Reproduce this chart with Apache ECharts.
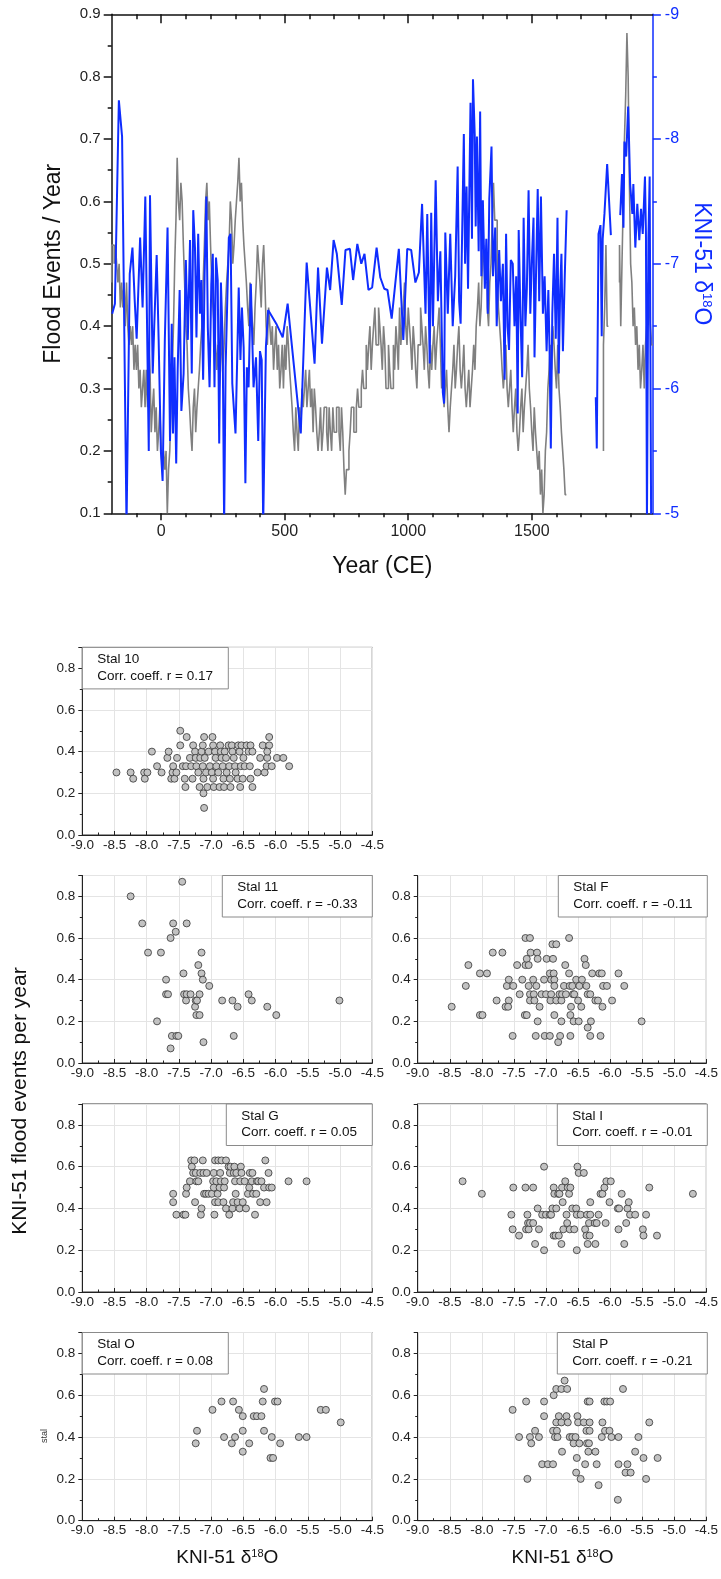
<!DOCTYPE html>
<html><head><meta charset="utf-8">
<script src="https://cdn.jsdelivr.net/npm/echarts@6.0.0/dist/echarts.min.js"></script>
<style>html,body{margin:0;padding:0;background:#fff}#c{width:721px;height:1579px}</style>
</head><body><div id="c"></div><script>
const FONT = 'Arial, "Liberation Sans", sans-serif';
const BLUE = '#0f2dff';
const GRAY = '#808080';

// ---------- top chart data ----------
const yearMajor = [0, 500, 1000, 1500];
const yearMinor = [-100,100,200,300,400,600,700,800,900,1100,1200,1300,1400,1600,1700,1800,1900];
// flood events per year (gray, left axis) [year, value]; null = gap
const flood = [[-200,0.47],[-195,0.53],[-190,0.53],[-185,0.5],[-180,0.53],[-175,0.5],[-170,0.47],[-165,0.5],[-160,0.43],[-155,0.47],[-150,0.43],[-145,0.47],[-140,0.4],[-135,0.47],[-130,0.4],[-125,0.37],[-120,0.4],[-115,0.37],[-110,0.4],[-105,0.33],[-100,0.37],[-95,0.33],[-90,0.37],[-85,0.3],[-80,0.33],[-75,0.27],[-70,0.3],[-65,0.33],[-60,0.27],[-55,0.33],[-50,0.27],[-45,0.37],[-40,0.33],[-35,0.23],[-30,0.27],[-25,0.3],[-20,0.23],[-15,0.27],[-10,0.2],[-5,0.23],[0,0.27],[5,0.2],[10,0.17],[15,0.2],[20,0.17],[25,0.2],[30,0.1],[35,0.17],[40,0.2],[45,0.27],[50,0.33],[55,0.4],[60,0.5],[65,0.57],[70,0.67],[75,0.6],[80,0.57],[85,0.63],[90,0.6],[95,0.53],[100,0.47],[105,0.4],[110,0.37],[115,0.3],[120,0.27],[125,0.23],[130,0.2],[135,0.27],[140,0.3],[145,0.23],[150,0.27],[155,0.3],[160,0.33],[165,0.37],[170,0.4],[175,0.47],[180,0.53],[185,0.6],[190,0.63],[195,0.57],[200,0.6],[205,0.53],[210,0.47],[215,0.43],[220,0.4],[225,0.37],[230,0.33],[235,0.37],[240,0.3],[245,0.33],[250,0.4],[255,0.33],[260,0.37],[265,0.43],[270,0.47],[275,0.5],[280,0.53],[285,0.6],[290,0.57],[295,0.5],[300,0.53],[305,0.57],[310,0.6],[315,0.63],[320,0.67],[325,0.6],[330,0.63],[335,0.57],[340,0.53],[345,0.5],[350,0.47],[355,0.43],[360,0.4],[365,0.47],[370,0.43],[375,0.4],[380,0.37],[385,0.43],[390,0.47],[395,0.53],[400,0.5],[405,0.47],[410,0.43],[415,0.5],[420,0.53],[425,0.47],[430,0.4],[435,0.37],[440,0.43],[445,0.4],[450,0.37],[455,0.4],[460,0.33],[465,0.37],[470,0.4],[475,0.33],[480,0.37],[485,0.3],[490,0.33],[495,0.37],[500,0.3],[505,0.37],[510,0.33],[515,0.4],[520,0.37],[525,0.33],[530,0.3],[535,0.27],[540,0.23],[545,0.2],[550,0.27],[555,0.23],[560,0.2],[565,0.27],[570,0.23],[575,0.3],[580,0.27],[585,0.3],[590,0.33],[595,0.27],[600,0.3],[605,0.33],[610,0.27],[615,0.3],[620,0.23],[625,0.3],[630,0.27],[635,0.23],[640,0.2],[645,0.23],[650,0.27],[655,0.2],[660,0.23],[665,0.27],[670,0.27],[675,0.23],[680,0.2],[685,0.27],[690,0.23],[695,0.2],[700,0.27],[705,0.23],[710,0.23],[715,0.27],[720,0.27],[725,0.23],[730,0.2],[735,0.27],[740,0.23],[745,0.17],[750,0.13],[755,0.17],[760,0.17],[765,0.2],[770,0.23],[775,0.27],[780,0.27],[785,0.23],[790,0.23],[795,0.27],[800,0.3],[805,0.27],[810,0.27],[815,0.3],[820,0.33],[825,0.3],[830,0.3],[835,0.37],[840,0.33],[845,0.37],[850,0.4],[855,0.33],[860,0.37],[865,0.4],[870,0.43],[875,0.37],[880,0.37],[885,0.43],[890,0.4],[895,0.37],[900,0.33],[905,0.4],[910,0.37],[915,0.3],[920,0.3],[925,0.37],[930,0.33],[935,0.3],[940,0.3],[945,0.37],[950,0.33],[955,0.4],[960,0.37],[965,0.33],[970,0.43],[975,0.37],[980,0.4],[985,0.43],[990,0.47],[995,0.4],[1000,0.37],[1005,0.43],[1010,0.4],[1015,0.37],[1020,0.33],[1025,0.4],[1030,0.37],[1035,0.33],[1040,0.3],[1045,0.37],[1050,0.37],[1055,0.43],[1060,0.4],[1065,0.37],[1070,0.33],[1075,0.4],[1080,0.37],[1085,0.33],[1090,0.3],[1095,0.37],[1100,0.33],[1105,0.37],[1110,0.4],[1115,0.33],[1120,0.37],[1125,0.4],[1130,0.43],[1135,0.37],[1140,0.3],[1145,0.33],[1150,0.27],[1155,0.3],[1160,0.33],[1165,0.27],[1170,0.23],[1175,0.27],[1180,0.3],[1185,0.33],[1190,0.37],[1195,0.3],[1200,0.33],[1205,0.37],[1210,0.4],[1215,0.33],[1220,0.3],[1225,0.33],[1230,0.37],[1235,0.3],[1240,0.27],[1245,0.3],[1250,0.33],[1255,0.27],[1260,0.3],[1265,0.33],[1270,0.37],[1275,0.33],[1280,0.4],[1285,0.43],[1290,0.47],[1295,0.4],[1300,0.43],[1305,0.5],[1310,0.53],[1315,0.47],[1320,0.47],[1325,0.43],[1330,0.4],[1335,0.47],[1340,0.5],[1345,0.57],[1350,0.63],[1355,0.57],[1360,0.57],[1365,0.5],[1370,0.43],[1375,0.4],[1380,0.37],[1385,0.33],[1390,0.3],[1395,0.33],[1400,0.37],[1405,0.3],[1410,0.27],[1415,0.3],[1420,0.33],[1425,0.27],[1430,0.23],[1435,0.27],[1440,0.3],[1445,0.23],[1450,0.2],[1455,0.23],[1460,0.27],[1465,0.3],[1470,0.23],[1475,0.27],[1480,0.3],[1485,0.33],[1490,0.37],[1495,0.3],[1500,0.27],[1505,0.23],[1510,0.2],[1515,0.27],[1520,0.23],[1525,0.2],[1530,0.17],[1535,0.2],[1540,0.13],[1545,0.17],[1550,0.1],[1555,0.13],[1560,0.2],[1565,0.23],[1570,0.3],[1575,0.33],[1580,0.37],[1585,0.33],[1590,0.4],[1595,0.37],[1600,0.33],[1605,0.3],[1610,0.37],[1615,0.3],[1620,0.27],[1625,0.23],[1630,0.2],[1635,0.17],[1640,0.13],[1700,null],[1790,0.2],[1795,0.37],[1800,0.43],[1805,0.53],[1810,0.4],[1830,null],[1855,0.47],[1860,0.53],[1865,0.4],[1870,0.5],[1875,0.6],[1880,0.7],[1885,0.77],[1890,0.87],[1895,0.8],[1900,0.63],[1905,0.5],[1910,0.47],[1915,0.4],[1920,0.43],[1925,0.37],[1930,0.4],[1935,0.33],[1940,0.37],[1945,0.3],[1950,0.33],[1955,0.37],[1960,0.3],[1965,0.37],[1970,0.4],[1975,0.47],[1980,0.43],[1985,0.4],[1990,0.37]];
// KNI-51 d18O (blue, right axis) [year, value]; null = gap
const d18O = [[-198,-6.6],[-187,-6.68],[-178,-7.6],[-171,-8.31],[-158,-8.02],[-140,-4.9],[-127,-6.92],[-116,-7.13],[-107,-6.71],[-99,-6.4],[-85,-7.21],[-75,-6.65],[-64,-7.54],[-50,-5.5],[-45,-7.55],[-34,-6.12],[-28,-6.49],[-18,-7.07],[-10,-6.39],[-1,-5.5],[6,-5.26],[15,-6.39],[26,-7.29],[32,-7.29],[36,-5.58],[43,-6.52],[48,-5.64],[54,-6.25],[61,-5.4],[67,-6.15],[75,-6.79],[82,-5.82],[91,-6.12],[100,-7.03],[108,-6.39],[117,-7.19],[124,-6.12],[130,-7.43],[137,-7.13],[143,-6.41],[150,-7.24],[157,-6.6],[163,-6.87],[170,-6.07],[176,-6.92],[183,-7.54],[189,-6.49],[196,-6.01],[203,-6.84],[209,-7.08],[216,-6.01],[222,-7.05],[229,-6.87],[235,-5.56],[242,-6.85],[249,-6.39],[255,-4.9],[261,-6.17],[268,-6.73],[274,-7.21],[281,-7.24],[288,-6.04],[294,-5.85],[301,-5.64],[308,-6.25],[314,-6.81],[321,-6.23],[327,-6.65],[334,-6.33],[341,-5.24],[347,-6.17],[354,-6.01],[363,-6.84],[374,-6.01],[384,-6.25],[393,-5.58],[400,-6.3],[407,-6.23],[413,-4.9],[424,-6.33],[433,-6.63],[466,-6.52],[492,-6.41],[512,-6.68],[565,-5.64],[589,-7.01],[621,-6.2],[635,-6.97],[651,-6.36],[671,-6.97],[684,-6.79],[698,-7.19],[711,-7.08],[731,-6.67],[746,-7.11],[764,-7.12],[777,-6.87],[794,-7.16],[810,-7.0],[823,-7.08],[839,-6.79],[854,-6.81],[872,-7.13],[887,-6.89],[903,-6.8],[916,-6.79],[933,-6.56],[962,-7.12],[980,-6.39],[996,-7.12],[1012,-7.11],[1029,-6.85],[1043,-6.93],[1056,-7.48],[1061,-7.48],[1070,-6.6],[1077,-7.4],[1087,-6.2],[1093,-7.41],[1100,-6.5],[1111,-7.67],[1120,-6.7],[1130,-7.1],[1140,-5.97],[1145,-5.88],[1150,-7.25],[1160,-6.6],[1170,-7.24],[1180,-6.5],[1190,-6.9],[1200,-7.78],[1206,-6.7],[1212,-6.52],[1225,-8.04],[1230,-7.0],[1236,-7.62],[1242,-6.8],[1252,-8.29],[1258,-7.2],[1262,-8.48],[1269,-8.04],[1273,-7.3],[1278,-8.02],[1285,-7.1],[1291,-8.22],[1296,-6.9],[1302,-7.51],[1310,-6.8],[1316,-7.2],[1322,-6.6],[1328,-7.52],[1337,-7.94],[1343,-6.9],[1352,-7.29],[1358,-6.5],[1368,-7.11],[1375,-6.7],[1383,-7.0],[1390,-6.07],[1396,-7.24],[1402,-6.5],[1408,-6.31],[1415,-7.03],[1423,-7.0],[1430,-6.5],[1437,-6.9],[1443,-5.8],[1447,-7.27],[1454,-6.6],[1461,-6.09],[1467,-7.37],[1474,-6.5],[1480,-6.8],[1487,-7.59],[1494,-6.6],[1500,-7.0],[1507,-7.37],[1511,-6.25],[1517,-6.9],[1524,-7.6],[1530,-6.7],[1537,-7.54],[1545,-6.6],[1552,-6.9],[1560,-6.3],[1567,-6.79],[1572,-6.3],[1577,-5.52],[1583,-6.6],[1590,-7.08],[1597,-6.4],[1604,-7.37],[1609,-6.12],[1615,-6.8],[1620,-7.08],[1626,-6.3],[1633,-6.87],[1641,-7.43],[1700,null],[1759,-5.93],[1763,-5.52],[1770,-7.24],[1778,-7.31],[1783,-6.42],[1787,-7.2],[1794,-7.4],[1805,-7.8],[1820,-7.23],[1840,null],[1858,-7.39],[1865,-7.72],[1871,-7.29],[1875,-7.98],[1882,-7.86],[1890,-8.26],[1898,-7.64],[1907,-7.4],[1911,-7.64],[1919,-7.13],[1927,-7.48],[1935,-7.19],[1942,-7.44],[1949,-7.24],[1958,-7.7],[1962,-7.24],[1966,-4.9],[1972,-7.2],[1977,-7.7],[1983,-4.9]];

// ---------- scatter panels data ----------
const panelNames = ['Stal 10','Stal 11','Stal F','Stal G','Stal I','Stal O','Stal P'];
const panelCorr = ['0.17','-0.33','-0.11','0.05','-0.01','0.08','-0.21'];
const stal10 = [[-8.47,0.3],[-8.25,0.3],[-8.21,0.27],[-8.04,0.3],[-8.03,0.27],[-7.99,0.3],[-7.92,0.4],[-7.84,0.33],[-7.77,0.3],[-7.68,0.37],[-7.66,0.4],[-7.62,0.27],[-7.6,0.3],[-7.59,0.33],[-7.57,0.27],[-7.53,0.37],[-7.54,0.3],[-7.48,0.5],[-7.48,0.43],[-7.44,0.33],[-7.41,0.27],[-7.4,0.23],[-7.38,0.47],[-7.39,0.33],[-7.33,0.37],[-7.31,0.33],[-7.29,0.27],[-7.28,0.43],[-7.25,0.4],[-7.24,0.37],[-7.23,0.33],[-7.2,0.3],[-7.18,0.23],[-7.17,0.37],[-7.15,0.4],[-7.13,0.43],[-7.13,0.33],[-7.12,0.27],[-7.12,0.2],[-7.11,0.13],[-7.11,0.47],[-7.1,0.37],[-7.08,0.3],[-7.06,0.23],[-7.04,0.4],[-7.02,0.33],[-6.99,0.3],[-6.98,0.47],[-6.97,0.43],[-6.97,0.27],[-6.96,0.23],[-6.94,0.4],[-6.93,0.37],[-6.92,0.33],[-6.89,0.3],[-6.87,0.23],[-6.86,0.43],[-6.85,0.4],[-6.84,0.37],[-6.82,0.33],[-6.81,0.27],[-6.8,0.23],[-6.79,0.4],[-6.77,0.37],[-6.76,0.3],[-6.73,0.43],[-6.72,0.33],[-6.71,0.27],[-6.7,0.23],[-6.68,0.43],[-6.67,0.4],[-6.65,0.37],[-6.63,0.33],[-6.62,0.3],[-6.59,0.27],[-6.58,0.43],[-6.56,0.4],[-6.55,0.23],[-6.54,0.33],[-6.53,0.43],[-6.51,0.27],[-6.5,0.37],[-6.48,0.33],[-6.45,0.43],[-6.42,0.4],[-6.4,0.33],[-6.39,0.43],[-6.39,0.27],[-6.36,0.23],[-6.36,0.4],[-6.28,0.3],[-6.24,0.37],[-6.2,0.43],[-6.17,0.3],[-6.14,0.33],[-6.13,0.37],[-6.1,0.47],[-6.1,0.43],[-6.06,0.33],[-5.98,0.37],[-5.88,0.37],[-5.79,0.33],[-6.13,0.4]];
const stal11 = [[-8.25,0.8],[-8.07,0.67],[-7.98,0.53],[-7.84,0.2],[-7.78,0.53],[-7.7,0.4],[-7.7,0.33],[-7.67,0.33],[-7.63,0.6],[-7.63,0.07],[-7.61,0.13],[-7.59,0.67],[-7.55,0.63],[-7.54,0.13],[-7.51,0.13],[-7.45,0.87],[-7.43,0.43],[-7.42,0.33],[-7.39,0.3],[-7.38,0.67],[-7.38,0.33],[-7.32,0.33],[-7.25,0.27],[-7.24,0.3],[-7.23,0.23],[-7.22,0.3],[-7.2,0.47],[-7.18,0.33],[-7.18,0.23],[-7.15,0.53],[-7.15,0.43],[-7.13,0.4],[-7.12,0.1],[-7.03,0.37],[-6.83,0.3],[-6.67,0.3],[-6.65,0.13],[-6.59,0.27],[-6.42,0.33],[-6.37,0.3],[-6.13,0.27],[-5.99,0.23],[-5.01,0.3]];
const stalF = [[-8.47,0.27],[-8.25,0.37],[-8.21,0.47],[-8.03,0.43],[-8.03,0.23],[-7.99,0.23],[-7.92,0.43],[-7.83,0.53],[-7.77,0.3],[-7.68,0.53],[-7.63,0.27],[-7.61,0.37],[-7.58,0.4],[-7.58,0.3],[-7.59,0.27],[-7.52,0.13],[-7.51,0.37],[-7.45,0.47],[-7.41,0.33],[-7.37,0.4],[-7.33,0.23],[-7.32,0.6],[-7.3,0.23],[-7.32,0.47],[-7.3,0.5],[-7.27,0.37],[-7.25,0.6],[-7.25,0.33],[-7.24,0.53],[-7.27,0.47],[-7.25,0.3],[-7.2,0.4],[-7.19,0.33],[-7.18,0.3],[-7.15,0.37],[-7.16,0.13],[-7.14,0.53],[-7.13,0.5],[-7.13,0.2],[-7.1,0.27],[-7.07,0.33],[-7.03,0.4],[-7.02,0.13],[-7.0,0.33],[-6.99,0.5],[-6.94,0.43],[-6.94,0.13],[-6.93,0.3],[-6.92,0.4],[-6.92,0.33],[-6.9,0.57],[-6.89,0.5],[-6.88,0.43],[-6.87,0.4],[-6.87,0.37],[-6.87,0.23],[-6.84,0.57],[-6.84,0.3],[-6.81,0.1],[-6.79,0.33],[-6.78,0.13],[-6.76,0.3],[-6.76,0.2],[-6.75,0.33],[-6.72,0.37],[-6.7,0.47],[-6.69,0.33],[-6.64,0.43],[-6.64,0.6],[-6.63,0.37],[-6.62,0.23],[-6.62,0.13],[-6.61,0.27],[-6.59,0.37],[-6.58,0.33],[-6.57,0.2],[-6.56,0.33],[-6.53,0.4],[-6.5,0.3],[-6.49,0.2],[-6.48,0.37],[-6.45,0.27],[-6.44,0.4],[-6.4,0.5],[-6.38,0.47],[-6.37,0.37],[-6.35,0.33],[-6.35,0.17],[-6.31,0.33],[-6.31,0.13],[-6.3,0.2],[-6.28,0.43],[-6.23,0.3],[-6.19,0.3],[-6.15,0.13],[-6.17,0.43],[-6.13,0.43],[-6.12,0.27],[-6.11,0.37],[-6.05,0.37],[-5.97,0.3],[-5.87,0.43],[-5.78,0.37],[-5.51,0.2]];
const stalG = [[-7.59,0.47],[-7.59,0.43],[-7.54,0.37],[-7.43,0.37],[-7.4,0.37],[-7.39,0.47],[-7.38,0.5],[-7.33,0.53],[-7.31,0.63],[-7.3,0.6],[-7.28,0.57],[-7.26,0.63],[-7.25,0.43],[-7.24,0.57],[-7.23,0.53],[-7.2,0.53],[-7.17,0.57],[-7.16,0.37],[-7.15,0.4],[-7.13,0.63],[-7.12,0.57],[-7.11,0.47],[-7.08,0.47],[-7.07,0.57],[-7.04,0.47],[-6.99,0.47],[-6.97,0.53],[-6.96,0.57],[-6.95,0.37],[-6.94,0.63],[-6.96,0.5],[-6.94,0.43],[-6.92,0.53],[-6.9,0.47],[-6.89,0.63],[-6.89,0.43],[-6.87,0.5],[-6.86,0.57],[-6.85,0.53],[-6.84,0.63],[-6.81,0.43],[-6.8,0.5],[-6.79,0.53],[-6.77,0.63],[-6.77,0.4],[-6.73,0.6],[-6.72,0.37],[-6.71,0.57],[-6.7,0.6],[-6.67,0.4],[-6.66,0.43],[-6.65,0.57],[-6.64,0.6],[-6.63,0.53],[-6.62,0.47],[-6.61,0.57],[-6.59,0.43],[-6.56,0.4],[-6.55,0.53],[-6.54,0.6],[-6.53,0.57],[-6.51,0.43],[-6.48,0.53],[-6.46,0.4],[-6.43,0.47],[-6.41,0.5],[-6.4,0.57],[-6.37,0.53],[-6.36,0.57],[-6.35,0.47],[-6.32,0.37],[-6.3,0.47],[-6.29,0.53],[-6.27,0.53],[-6.24,0.43],[-6.22,0.53],[-6.18,0.5],[-6.16,0.63],[-6.14,0.43],[-6.11,0.57],[-6.1,0.5],[-6.06,0.5],[-5.8,0.53],[-5.52,0.53]];
const stalI = [[-8.3,0.53],[-8.0,0.47],[-7.54,0.37],[-7.52,0.3],[-7.51,0.5],[-7.42,0.27],[-7.32,0.5],[-7.31,0.3],[-7.29,0.37],[-7.28,0.33],[-7.27,0.3],[-7.25,0.33],[-7.2,0.33],[-7.2,0.5],[-7.17,0.23],[-7.13,0.4],[-7.11,0.3],[-7.06,0.37],[-7.03,0.6],[-7.03,0.2],[-7.0,0.37],[-6.94,0.37],[-6.92,0.37],[-6.9,0.4],[-6.88,0.5],[-6.88,0.27],[-6.87,0.47],[-6.85,0.27],[-6.84,0.4],[-6.81,0.47],[-6.8,0.27],[-6.79,0.47],[-6.76,0.23],[-6.75,0.5],[-6.74,0.43],[-6.73,0.3],[-6.7,0.53],[-6.68,0.37],[-6.67,0.33],[-6.66,0.5],[-6.64,0.47],[-6.63,0.3],[-6.62,0.5],[-6.59,0.4],[-6.56,0.3],[-6.53,0.4],[-6.52,0.2],[-6.51,0.6],[-6.52,0.37],[-6.49,0.57],[-6.46,0.37],[-6.41,0.57],[-6.39,0.3],[-6.37,0.27],[-6.36,0.37],[-6.35,0.23],[-6.33,0.33],[-6.32,0.27],[-6.31,0.37],[-6.31,0.43],[-6.24,0.33],[-6.23,0.23],[-6.21,0.33],[-6.18,0.37],[-6.15,0.47],[-6.12,0.47],[-6.09,0.5],[-6.07,0.33],[-6.06,0.53],[-6.01,0.43],[-5.99,0.53],[-5.88,0.4],[-5.87,0.3],[-5.86,0.4],[-5.82,0.47],[-5.78,0.23],[-5.75,0.33],[-5.73,0.4],[-5.71,0.43],[-5.69,0.37],[-5.61,0.37],[-5.49,0.3],[-5.48,0.27],[-5.44,0.37],[-5.39,0.5],[-5.27,0.27],[-4.71,0.47]];
const stalO = [[-7.24,0.37],[-7.22,0.43],[-6.98,0.53],[-6.84,0.57],[-6.8,0.4],[-6.66,0.57],[-6.68,0.37],[-6.63,0.4],[-6.57,0.53],[-6.51,0.5],[-6.51,0.43],[-6.51,0.33],[-6.41,0.37],[-6.34,0.5],[-6.29,0.5],[-6.22,0.5],[-6.2,0.57],[-6.18,0.63],[-6.18,0.43],[-6.06,0.4],[-6.08,0.3],[-6.04,0.3],[-6.01,0.57],[-5.97,0.57],[-5.93,0.37],[-5.64,0.4],[-5.52,0.4],[-5.3,0.53],[-5.22,0.53],[-4.99,0.47]];
const stalP = [[-7.52,0.53],[-7.42,0.4],[-7.31,0.57],[-7.29,0.2],[-7.25,0.4],[-7.23,0.37],[-7.17,0.43],[-7.11,0.4],[-7.06,0.27],[-7.03,0.5],[-7.03,0.57],[-6.97,0.27],[-6.89,0.27],[-6.89,0.43],[-6.88,0.6],[-6.86,0.4],[-6.84,0.63],[-6.84,0.47],[-6.83,0.43],[-6.82,0.4],[-6.8,0.5],[-6.76,0.63],[-6.76,0.47],[-6.75,0.33],[-6.71,0.67],[-6.68,0.5],[-6.67,0.63],[-6.66,0.47],[-6.63,0.4],[-6.59,0.4],[-6.57,0.37],[-6.54,0.4],[-6.53,0.23],[-6.52,0.3],[-6.51,0.5],[-6.5,0.47],[-6.48,0.37],[-6.46,0.2],[-6.41,0.47],[-6.39,0.27],[-6.37,0.43],[-6.36,0.37],[-6.35,0.57],[-6.34,0.33],[-6.32,0.57],[-6.32,0.47],[-6.32,0.43],[-6.33,0.37],[-6.23,0.33],[-6.21,0.27],[-6.18,0.17],[-6.13,0.4],[-6.12,0.47],[-6.09,0.57],[-6.08,0.43],[-6.05,0.57],[-6.01,0.43],[-6.0,0.57],[-5.98,0.4],[-5.88,0.1],[-5.87,0.4],[-5.87,0.27],[-5.8,0.63],[-5.76,0.23],[-5.73,0.27],[-5.68,0.23],[-5.61,0.33],[-5.56,0.4],[-5.48,0.3],[-5.44,0.2],[-5.39,0.47],[-5.26,0.3]];
const panelData = [stal10, stal11, stalF, stalG, stalI, stalO, stalP];

// ---------- layout (pixels) ----------
const topGrid = {left: 111.7, top: 14.3, width: 551.6, height: 499};
const panelLayout = [
  {x: 82.3, y: 647.4, w: 290, h: 187.6, box: 'left'},
  {x: 82.3, y: 875.5, w: 290, h: 187.5, box: 'right'},
  {x: 417.7, y: 875.5, w: 289.6, h: 187.5, box: 'right'},
  {x: 82.3, y: 1104, w: 290, h: 188, box: 'right'},
  {x: 417.7, y: 1104, w: 289.6, h: 188, box: 'right'},
  {x: 82.3, y: 1332.5, w: 290, h: 188.2, box: 'left'},
  {x: 417.7, y: 1332.5, w: 289.6, h: 188.2, box: 'right'}
];

function splitAtGaps(arr) {
  const segs = [[]];
  arr.forEach(p => { if (p[1] === null) segs.push([]); else segs[segs.length - 1].push(p); });
  return segs.filter(s => s.length);
}

const ctx = document.createElement('canvas').getContext('2d');
ctx.font = '13.5px ' + FONT;

const grids = [Object.assign({containLabel: false}, topGrid)];
const xAxes = [], yAxes = [], series = [], graphics = [];
const ax = {color: '#111', width: 1.5};

xAxes.push({type: 'value', gridIndex: 0, min: -200, max: 1990, position: 'bottom',
  axisLine: {onZero: false, lineStyle: ax}, axisTick: {customValues: yearMajor, length: 7, lineStyle: ax},
  axisLabel: {customValues: yearMajor, formatter: v => String(v), fontSize: 16, color: '#222', fontFamily: FONT, margin: 10},
  splitLine: {show: false}, name: 'Year (CE)', nameLocation: 'middle', nameGap: 42,
  nameTextStyle: {fontSize: 23, color: '#111', fontFamily: FONT}});
xAxes.push({type: 'value', gridIndex: 0, min: -200, max: 1990, position: 'bottom',
  axisLine: {show: false, onZero: false}, axisTick: {customValues: yearMinor, length: 4, lineStyle: ax},
  axisLabel: {show: false}, splitLine: {show: false}});
xAxes.push({type: 'value', gridIndex: 0, min: -200, max: 1990, position: 'top',
  axisLine: {onZero: false, lineStyle: ax}, axisTick: {customValues: yearMajor, inside: true, length: 9, lineStyle: ax},
  axisLabel: {show: false}, splitLine: {show: false}});
xAxes.push({type: 'value', gridIndex: 0, min: -200, max: 1990, position: 'top',
  axisLine: {show: false, onZero: false}, axisTick: {customValues: yearMinor, inside: true, length: 5, lineStyle: ax},
  axisLabel: {show: false}, splitLine: {show: false}});

yAxes.push({type: 'value', gridIndex: 0, min: 0.1, max: 0.9, interval: 0.1, position: 'left',
  axisLine: {show: true, onZero: false, lineStyle: ax}, axisTick: {show: true, length: 8, lineStyle: ax},
  minorTick: {show: true, splitNumber: 2, length: 4, lineStyle: ax},
  axisLabel: {formatter: v => v.toFixed(1), fontSize: 15, color: '#222', fontFamily: FONT, margin: 11},
  splitLine: {show: false}, name: 'Flood Events / Year', nameLocation: 'middle', nameRotate: 90, nameGap: 47,
  nameTextStyle: {fontSize: 23, color: '#111', fontFamily: FONT}});
const bl = {color: BLUE, width: 1.5};
yAxes.push({type: 'value', gridIndex: 0, min: -9, max: -5, interval: 1, inverse: true, position: 'right',
  axisLine: {show: true, onZero: false, lineStyle: bl}, axisTick: {show: true, length: 8, lineStyle: bl},
  minorTick: {show: true, splitNumber: 2, length: 4, lineStyle: bl},
  axisLabel: {fontSize: 16, color: BLUE, fontFamily: FONT, margin: 12},
  splitLine: {show: false}, name: 'KNI-51 δ{s|18}O', nameLocation: 'middle', nameRotate: -90, nameGap: 35,
  nameTextStyle: {fontSize: 23, color: BLUE, fontFamily: FONT, rich: {s: {fontSize: 13, color: BLUE, fontFamily: FONT, verticalAlign: 'top'}}}});

splitAtGaps(flood).forEach(seg => {
  series.push({type: 'line', xAxisIndex: 0, yAxisIndex: 0, data: seg, step: 'start', showSymbol: false, symbol: 'none',
    lineStyle: {color: GRAY, width: 1.6}, itemStyle: {color: GRAY}, silent: true, z: 2});
});
splitAtGaps(d18O).forEach(seg => {
  series.push({type: 'line', xAxisIndex: 0, yAxisIndex: 1, data: seg, showSymbol: false, symbol: 'none',
    lineStyle: {color: BLUE, width: 2}, itemStyle: {color: BLUE}, silent: true, z: 3});
});

const lineDark = {color: '#222', width: 1};
panelLayout.forEach((p, i) => {
  grids.push({left: p.x, top: p.y, width: p.w, height: p.h, show: true, borderColor: '#333', borderWidth: 1, containLabel: false});
  xAxes.push({type: 'value', gridIndex: i + 1, min: -9, max: -4.5, interval: 0.5,
    axisLine: {onZero: false, lineStyle: lineDark}, axisTick: {inside: true, length: 4, lineStyle: lineDark},
    minorTick: {show: true, splitNumber: 2, length: 2.5, lineStyle: lineDark},
    axisLabel: {formatter: v => v.toFixed(1), fontSize: 13.5, color: '#222', fontFamily: FONT, margin: 3},
    splitLine: {show: true, lineStyle: {color: '#e4e4e4', width: 1}}});
  yAxes.push({type: 'value', gridIndex: i + 1, min: 0, max: 0.9, interval: 0.2,
    axisLine: {show: true, onZero: false, lineStyle: lineDark}, axisTick: {show: true, length: 4, lineStyle: lineDark},
    minorTick: {show: true, splitNumber: 2, length: 2.5, lineStyle: lineDark},
    axisLabel: {formatter: v => v.toFixed(1), showMaxLabel: false, fontSize: 13.5, color: '#222', fontFamily: FONT, margin: 7},
    splitLine: {show: true, lineStyle: {color: '#e4e4e4', width: 1}}});
  series.push({type: 'scatter', xAxisIndex: 4 + i, yAxisIndex: 2 + i, data: panelData[i], symbolSize: 7,
    itemStyle: {color: '#c2c2c2', borderColor: '#333', borderWidth: 0.8, opacity: 1}, silent: true, z: 3});

  const line2 = 'Corr. coeff. r = ' + panelCorr[i];
  const bw = Math.round(ctx.measureText(line2).width + 30);
  const bh = 41.5;
  const bx = p.box === 'left' ? p.x : p.x + p.w - bw;
  const by = p.y;
  graphics.push({type: 'rect', shape: {x: bx, y: by, width: bw, height: bh}, style: {fill: '#fff', stroke: '#8a8a8a', lineWidth: 1}, z: 50});
  graphics.push({type: 'text', x: bx + 15, y: by + 12, style: {text: panelNames[i], font: '13.5px ' + FONT, fill: '#111', verticalAlign: 'middle'}, z: 51});
  graphics.push({type: 'text', x: bx + 15, y: by + 28.5, style: {text: line2, font: '13.5px ' + FONT, fill: '#111', verticalAlign: 'middle'}, z: 51});
});

graphics.push({type: 'text', x: 20, y: 1101, rotation: Math.PI / 2,
  style: {text: 'KNI-51 flood events per year', font: '21px ' + FONT, fill: '#111', align: 'center', verticalAlign: 'middle'}, z: 51});
graphics.push({type: 'text', x: 45, y: 1436, rotation: Math.PI / 2,
  style: {text: 'stal', font: '9px ' + FONT, fill: '#333', align: 'center', verticalAlign: 'middle'}, z: 51});
[227.3, 562.5].forEach(cx => {
  graphics.push({type: 'text', x: cx, y: 1558,
    style: {text: 'KNI-51 δ{s|18}O', font: '19px ' + FONT, fill: '#111', align: 'center', verticalAlign: 'middle',
      rich: {s: {fontSize: 11, fontFamily: FONT, fill: '#111', verticalAlign: 'top'}}}, z: 51});
});

const chart = echarts.init(document.getElementById('c'), null, {renderer: 'canvas'});
chart.setOption({
  animation: false,
  backgroundColor: '#fff',
  textStyle: {fontFamily: FONT},
  grid: grids, xAxis: xAxes, yAxis: yAxes, series: series, graphic: graphics
});
</script></body></html>
